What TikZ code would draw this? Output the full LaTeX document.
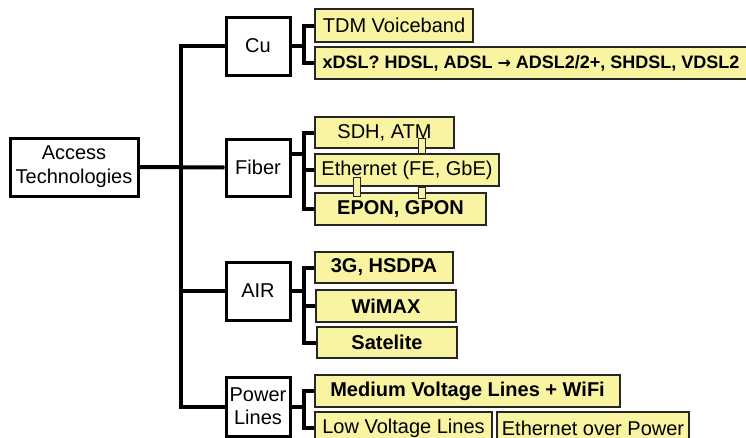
\documentclass[tikz,border=0pt]{standalone}
\usepackage{fontspec}
\setmainfont{Liberation Sans}
\newfontfamily\arrowfont{DejaVu Sans}
\usepackage{xcolor}
\usepackage{tikz}
\definecolor{leafyellow}{RGB}{248,244,162}

\begin{document}
\begin{tikzpicture}[x=1pt, y=-1pt,
		every node/.style={inner sep=0pt, font=\fontsize{20}{24}\selectfont},
		group/.style={draw, line width=3pt, fill=white, align=center},
		leaf/.style={draw=black!85, line width=1.5pt, fill=leafyellow},
		bridge/.style={draw=black!85, line width=1pt, fill=leafyellow},
		bus/.style={line width=4pt}]
		\useasboundingbox (0,0) rectangle (746,437);

		% main branches
		\node[group, minimum width=128, minimum height=58] (root) at (74,167) {Access\\Technologies};
		\node[group, minimum width=64, minimum height=58] (cu) at (258,46) {Cu};
		\node[group, minimum width=64, minimum height=57] (fiber) at (258,167.5) {Fiber};
		\node[group, minimum width=64, minimum height=58] (air) at (258,291) {AIR};
		\node[group, minimum width=64, minimum height=59, font=\fontsize{20}{23}\selectfont] (power) at (258,406.5) {Power\\Lines};

		% leaves
		\node[leaf, minimum width=158, minimum height=33] (tdm) at (394,25.5) {TDM Voiceband};
		\node[leaf, minimum width=432, minimum height=32, font=\fontsize{18}{20}\selectfont\bfseries] (xdsl) at (531,63) {xDSL? HDSL, ADSL {\arrowfont\fontsize{16}{20}\selectfont →} ADSL2/2+, SHDSL, VDSL2};
		\node[leaf, minimum width=139, minimum height=31] (sdh) at (384.5,132.5) {SDH, ATM};
		\node[leaf, minimum width=184, minimum height=32] (eth) at (407,170) {Ethernet (FE, GbE)};
		\node[leaf, minimum width=171, minimum height=32, font=\fontsize{20}{24}\selectfont\bfseries] (epon) at (400.5,209) {EPON, GPON};
		\node[leaf, minimum width=138, minimum height=31, font=\fontsize{20}{24}\selectfont\bfseries] (hsdpa) at (384,267.5) {3G, HSDPA};
		\node[leaf, minimum width=140, minimum height=32, font=\fontsize{20}{24}\selectfont\bfseries] (wimax) at (386,306) {WiMAX};
		\node[leaf, minimum width=140, minimum height=31, font=\fontsize{20}{24}\selectfont\bfseries] (sat) at (387,342.5) {Satelite};
		\node[leaf, minimum width=305, minimum height=32, font=\fontsize{20}{24}\selectfont\bfseries] (mv) at (467.5,391) {Medium Voltage Lines + WiFi};
		\node[leaf, minimum width=177, minimum height=32] (lv) at (403.5,428) {Low Voltage Lines};
		\node[leaf, minimum width=192, minimum height=32] (eop) at (593,428) {Ethernet over Power};

		% small joints between the fiber boxes
		\node[bridge, minimum width=7, minimum height=15] (j1) at (421.5,145.5) {};
		\node[bridge, minimum width=7, minimum height=19] (j2) at (356.5,186.5) {};
		\node[bridge, minimum width=7, minimum height=11] (j3) at (421.5,192.5) {};

		% tree lines
		\draw[bus] (root.east) -- (fiber.west);
		\draw[bus] (cu.west) -- ++(-44,0) |- (power.west);
		\draw[bus] (air.west) -- ++(-44,0);

		\draw[bus] (cu.east) -- ++(12,0) |- (tdm.west);
		\draw[bus] (cu.east) -- ++(12,0) |- (xdsl.west);
		\draw[bus] ([yshift=14pt]fiber.east) -- ++(12,0) |- (sdh.west);
		\draw[bus] ([yshift=14pt]fiber.east) -- ++(12,0) |- (eth.west);
		\draw[bus] ([yshift=14pt]fiber.east) -- ++(12,0) |- (epon.west);
		\draw[bus] (air.east) -- ++(12,0) |- (hsdpa.west);
		\draw[bus] (air.east) -- ++(12,0) |- (wimax.west);
		\draw[bus] (air.east) -- ++(12,0) |- (sat.west);
		\draw[bus] (power.east) -- ++(12,0) |- (mv.west);
		\draw[bus] (power.east) -- ++(12,0) |- (lv.west);
	\end{tikzpicture}
\end{document}
